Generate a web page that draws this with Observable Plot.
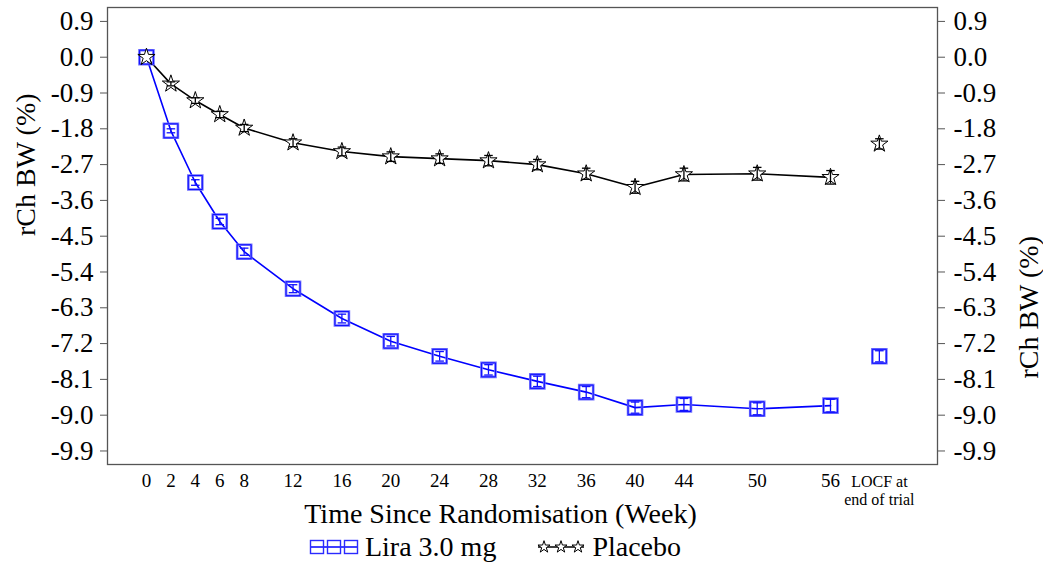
<!DOCTYPE html>
<html>
<head>
<meta charset="utf-8">
<script src="https://cdn.jsdelivr.net/npm/d3@7"></script>
<script src="https://cdn.jsdelivr.net/npm/@observablehq/plot@0.6"></script>
<style>
  body { margin: 0; background: #fff; font-family: "Liberation Serif", "Times New Roman", Times, "DejaVu Serif", serif; }
  #wrap { position: relative; width: 1043px; height: 564px; }
  #chart svg, #chart svg text { font-family: "Liberation Serif", "Times New Roman", Times, "DejaVu Serif", serif !important; }
  #legend { position: absolute; left: 0; top: 530px; width: 990px; height: 34px;
    display: flex; justify-content: center; align-items: center; font-size: 28px; color: #000; }
  #legend .item { display: flex; align-items: center; margin: 0 20px; }
  #legend svg { margin-right: 6px; }
</style>
</head>
<body>
<div id="wrap">
  <div id="chart"></div>
  <div id="legend"></div>
</div>
<script>
// ---- data ----
const weeks = [0, 2, 4, 6, 8, 12, 16, 20, 24, 28, 32, 36, 40, 44, 50, 56];
const locfPos = 60;
const locfLines = ["LOCF at", "end of trial"];
const seriesNames = ["Lira 3.0 mg", "Placebo"];
const liraMean = [0, -1.85, -3.15, -4.13, -4.89, -5.82, -6.57, -7.14, -7.52, -7.86, -8.15, -8.42, -8.81, -8.73, -8.84, -8.76];
const liraSE   = [0, 0.05, 0.07, 0.08, 0.09, 0.10, 0.11, 0.12, 0.12, 0.13, 0.13, 0.14, 0.14, 0.15, 0.15, 0.16];
const liraLocf = -7.52, liraLocfSE = 0.14;
const placeboMean = [0, -0.67, -1.09, -1.44, -1.78, -2.15, -2.37, -2.50, -2.55, -2.60, -2.70, -2.93, -3.27, -2.95, -2.93, -3.02];
const placeboSE   = [0, 0.05, 0.07, 0.08, 0.09, 0.10, 0.11, 0.12, 0.12, 0.13, 0.13, 0.14, 0.15, 0.16, 0.16, 0.17];
const placeboLocf = -2.18, placeboLocfSE = 0.13;
const yTicks = [0.9, 0.0, -0.9, -1.8, -2.7, -3.6, -4.5, -5.4, -6.3, -7.2, -8.1, -9.0, -9.9];
const yLabel = "rCh BW (%)";
const xLabel = "Time Since Randomisation (Week)";

// ---- build table ----
const lira = weeks.map((w, i) => ({x: w, y: liraMean[i], se: liraSE[i], s: seriesNames[0]}));
const placebo = weeks.map((w, i) => ({x: w, y: placeboMean[i], se: placeboSE[i], s: seriesNames[1]}));
const liraAll = lira.concat([{x: locfPos, y: liraLocf, se: liraLocfSE, s: seriesNames[0]}]);
const placeboAll = placebo.concat([{x: locfPos, y: placeboLocf, se: placeboLocfSE, s: seriesNames[1]}]);
const all = liraAll.concat(placeboAll).filter(d => d.se > 0);
const col = {"Lira 3.0 mg": "#1010ff", "Placebo": "#000"};
const capW = 0.35;
const fmt = d => (Math.abs(d) < 1e-9 ? "0.0" : d.toFixed(1));
const serif = "'Liberation Serif', 'Times New Roman', Times, 'DejaVu Serif', serif";

const chart = Plot.plot({
  width: 1043,
  height: 530,
  marginLeft: 107,
  marginRight: 106,
  marginTop: 7,
  marginBottom: 66,
  style: {fontFamily: serif, background: "#fff", color: "#000"},
  x: {domain: [-3.19, 64.76]},
  y: {domain: [-10.24, 1.25]},
  marks: [
    Plot.frame({stroke: "#555", strokeWidth: 1.3}),
    Plot.axisY({anchor: "left", ticks: yTicks, tickFormat: fmt, fontSize: 27, tickSize: 7, tickPadding: 7, stroke: "#555", label: null}),
    Plot.axisY({anchor: "right", ticks: yTicks, tickFormat: fmt, fontSize: 27, tickSize: 7, tickPadding: 9, stroke: "#555", label: null}),
    Plot.axisX({ticks: weeks, tickSize: 0, tickPadding: 9, fontSize: 19, label: null}),
    Plot.text([locfLines[0]], {x: () => locfPos, frameAnchor: "bottom", lineAnchor: "bottom", dy: 22, fontSize: 16}),
    Plot.text([locfLines[1]], {x: () => locfPos, frameAnchor: "bottom", lineAnchor: "bottom", dy: 40, fontSize: 16}),
    Plot.text([yLabel], {frameAnchor: "left", rotate: -90, dx: -81, fontSize: 28}),
    Plot.text([yLabel], {frameAnchor: "right", rotate: -90, dx: 92, fontSize: 28}),
    Plot.text([xLabel], {frameAnchor: "bottom", lineAnchor: "bottom", dy: 58, dx: -22, fontSize: 28}),
    Plot.line(lira, {x: "x", y: "y", stroke: "#0000ff", strokeWidth: 1.6}),
    Plot.line(placebo, {x: "x", y: "y", stroke: "#000", strokeWidth: 1.6}),
    Plot.dot(liraAll, {x: "x", y: "y", symbol: "square", r: 7.9, stroke: "#7070ff", strokeWidth: 2.6, fill: "none"}),
    Plot.dot(liraAll, {x: "x", y: "y", symbol: "square", r: 7.9, stroke: "#1010ff", strokeWidth: 1, fill: "none"}),
    Plot.dot(placeboAll, {x: "x", y: "y", symbol: "star", r: 5.4, stroke: "#000", strokeWidth: 1, fill: "#fff"}),
    Plot.ruleX(all, {x: "x", y1: d => d.y - d.se, y2: d => d.y + d.se, stroke: d => col[d.s], strokeWidth: 1.3}),
    Plot.link(all, {x1: d => d.x - capW, x2: d => d.x + capW, y1: d => d.y - d.se, y2: d => d.y - d.se, stroke: d => col[d.s], strokeWidth: 1.3}),
    Plot.link(all, {x1: d => d.x - capW, x2: d => d.x + capW, y1: d => d.y + d.se, y2: d => d.y + d.se, stroke: d => col[d.s], strokeWidth: 1.3})
  ]
});
document.getElementById("chart").appendChild(chart);

// ---- legend ----
const legend = document.getElementById("legend");
function swatch(name) {
  const w = 50, h = 20;
  const svg = d3.create("svg").attr("width", w).attr("height", h);
  const xs = [8, 25, 42];
  if (name === seriesNames[0]) {
    svg.append("line").attr("x1", 2).attr("x2", 48).attr("y1", 10).attr("y2", 10).attr("stroke", "#0000ff").attr("stroke-width", 1.3);
    xs.forEach(x => svg.append("rect").attr("x", x - 6.5).attr("y", 3.5).attr("width", 13).attr("height", 13)
      .attr("fill", "none").attr("stroke", "#2a2aff").attr("stroke-width", 1.4));
  } else {
    svg.append("line").attr("x1", 2).attr("x2", 48).attr("y1", 10).attr("y2", 10).attr("stroke", "#000").attr("stroke-width", 1.3);
    const star = d3.symbol(d3.symbolStar, 45)();
    xs.forEach(x => svg.append("path").attr("d", star).attr("transform", `translate(${x},10)`)
      .attr("fill", "#fff").attr("stroke", "#000").attr("stroke-width", 1));
  }
  return svg.node();
}
seriesNames.forEach(name => {
  const item = document.createElement("div");
  item.className = "item";
  item.appendChild(swatch(name));
  const t = document.createElement("span");
  t.textContent = name;
  item.appendChild(t);
  legend.appendChild(item);
});
</script>
</body>
</html>
